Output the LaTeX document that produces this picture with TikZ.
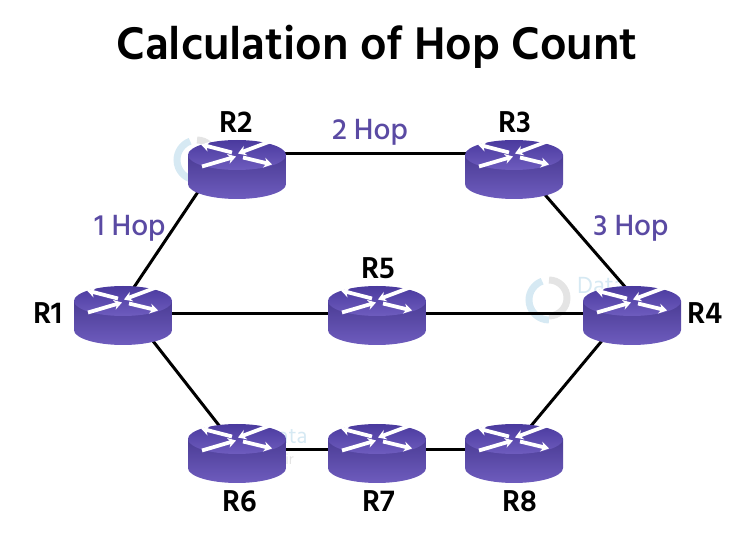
\documentclass[tikz,border=0pt]{standalone}
\usepackage{fontspec}
\setmainfont{Hind Siliguri}[BoldFont={Hind Siliguri SemiBold}]
\newfontfamily\hopfont{Hind Siliguri Medium}
\usetikzlibrary{arrows.meta}
\usetikzlibrary{backgrounds}
\definecolor{hoppurple}{HTML}{5A4AA3}
\definecolor{routertop}{HTML}{4A3A9E}
\definecolor{routerlow}{HTML}{6E5CBE}
\definecolor{wmblue}{HTML}{D6E9F3}
\definecolor{wmgrey}{HTML}{E4E4E4}
\tikzset{
  routerbox/.style={rectangle, inner sep=0pt, minimum width=98pt, minimum height=59pt,
    path picture={
      \shade[top color=routertop!85!black, bottom color=routerlow]
        (-49,-14.5) -- (-49,14.5) arc[start angle=180,end angle=0,x radius=49,y radius=15]
        -- (49,-14.5) -- cycle;
      \shade[top color=routertop, bottom color=routerlow]
        (0,-14.5) ellipse[x radius=49,y radius=15];
      \draw[routerarrow] (-5,-17) -- (-36,-25);
      \draw[routerarrow] (6,-12) -- (35,-5);
      \draw[routerarrow] (33,-28) -- (1,-16);
      \draw[routerarrow] (-35,-3) -- (-1,-13);
    }},
  routerarrow/.style={white, line width=3.8pt, -{Stealth[length=8pt,width=10pt]}},
  routerlabel/.style={font=\fontsize{31}{31}\selectfont\bfseries, text=black, inner sep=0pt},
  hoplabel/.style={font=\hopfont\fontsize{30}{30}\selectfont, text=hoppurple, inner sep=0pt},
  link/.style={black, line width=3pt},
  wmtext/.style={anchor=west, inner sep=0pt}
}
\newcommand{\wmlogo}[2]{%
  \draw[wmgrey, line width=7pt] (#1+4,#2-20) arc[start angle=-90,end angle=90,radius=18];
  \draw[wmblue, line width=7pt] (#1+4,#2+20) arc[start angle=90,end angle=250,radius=20];
}
\begin{document}
\begin{tikzpicture}[x=1pt,y=-1pt]
  \useasboundingbox (0,0) rectangle (756,537);

  % title
  \node[font=\fontsize{47}{47}\selectfont\bfseries, inner sep=0pt] (title) at (377,47) {Calculation of Hop Count};

  % routers
  \node[routerbox] (R1) at (123,315.5) {};
  \node[routerbox] (R2) at (237,169.5) {};
  \node[routerbox] (R3) at (514,169.5) {};
  \node[routerbox] (R4) at (632,315.5) {};
  \node[routerbox] (R5) at (377,315.5) {};
  \node[routerbox] (R6) at (237,453.5) {};
  \node[routerbox] (R7) at (377,453.5) {};
  \node[routerbox] (R8) at (514,453.5) {};

  % router names
  \node[routerlabel] (nameR1) at (48,313) {R1};
  \node[routerlabel] (nameR2) at (236,122) {R2};
  \node[routerlabel] (nameR3) at (515,122) {R3};
  \node[routerlabel] (nameR4) at (705,313) {R4};
  \node[routerlabel] (nameR5) at (378,268) {R5};
  \node[routerlabel] (nameR6) at (240,501) {R6};
  \node[routerlabel] (nameR7) at (379,501) {R7};
  \node[routerlabel] (nameR8) at (520,501) {R8};

  % hop counts
  \node[hoplabel] (hopA) at (130,228) {1 Hop};
  \node[hoplabel] (hopB) at (370,132) {2 Hop};
  \node[hoplabel] (hopC) at (631,228) {3 Hop};

  \begin{scope}[on background layer]
    % faint marks behind the routers
    \wmlogo{193}{160}
    \wmlogo{545}{300}
    \wmlogo{224}{453}
    \node[wmtext, text=wmblue, font=\fontsize{24}{24}\selectfont] (wordA) at (577,285) {Data};
    \node[wmtext, text=wmblue, font=\fontsize{22}{22}\selectfont] (wordB) at (263,436) {Data};
    \node[wmtext, text=wmgrey, font=\fontsize{15}{15}\selectfont] (wordC) at (267,459) {Flair};

    % links
    \draw[link] ([xshift=-8pt]R1.center) -- ([xshift=-24pt]R2.center);
    \draw[link] ([xshift=10pt]R1.center) -- ([xshift=4pt]R6.center);
    \draw[link] ([yshift=15.5pt]R2.center) -- ([yshift=15.5pt]R3.center);
    \draw[link] ([xshift=9pt]R3.center) -- ([xshift=18pt]R4.center);
    \draw[link] ([xshift=-9pt]R4.center) -- ([xshift=-6pt]R8.center);
    \draw[link] ([yshift=1.5pt]R1.center) -- ([yshift=1.5pt]R5.center);
    \draw[link] ([yshift=1.5pt]R5.center) -- ([yshift=1.5pt]R4.center);
    \draw[link] ([yshift=4pt]R6.center) -- ([yshift=4pt]R7.center);
    \draw[link] ([yshift=4pt]R7.center) -- ([yshift=4pt]R8.center);
  \end{scope}
\end{tikzpicture}
\end{document}
